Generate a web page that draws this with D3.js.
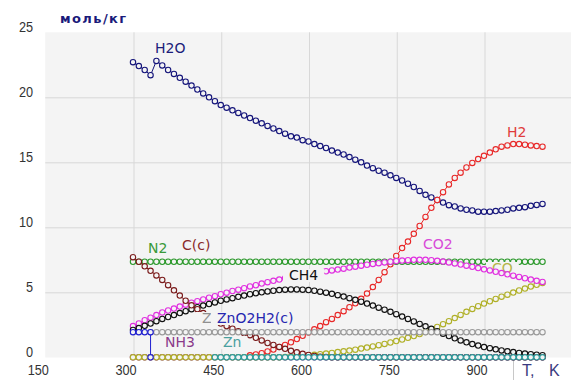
<!DOCTYPE html>
<html><head><meta charset="utf-8">
<script src="https://cdn.jsdelivr.net/npm/d3@7"></script>
<style>body{margin:0;background:#fff}svg{display:block}</style>
</head><body><svg id="c" width="571" height="380"></svg>
<script>
// ---- data ----
const temps=[300,310,320,330,340,350,360,370,380,390,400,410,420,430,440,450,460,470,480,490,500,510,520,530,540,550,560,570,580,590,600,610,620,630,640,650,660,670,680,690,700,710,720,730,740,750,760,770,780,790,800,810,820,830,840,850,860,870,880,890,900,910,920,930,940,950,960,970,980,990,1000];
const h2o=[22.7,22.4,22.1,21.7,22.8,22.45,22.1,21.8,21.5,21.2,20.9,20.6,20.3,20.0,19.7,19.4,19.2,19.0,18.8,18.6,18.4,18.2,18.0,17.8,17.6,17.4,17.2,17.0,16.9,16.7,16.6,16.4,16.25,16.1,15.9,15.75,15.6,15.4,15.2,15.0,14.75,14.55,14.35,14.2,14.0,13.8,13.6,13.35,13.1,12.8,12.5,12.3,12.1,11.9,11.7,11.6,11.45,11.35,11.3,11.2,11.2,11.2,11.25,11.3,11.35,11.45,11.5,11.55,11.65,11.72,11.8];
const h2=[null,null,null,null,null,null,null,null,null,null,null,null,null,null,null,null,null,null,null,null,0.15,0.22,0.32,0.45,0.6,0.8,0.95,1.15,1.4,1.65,1.9,2.15,2.4,2.7,2.95,3.25,3.55,3.85,4.15,4.5,4.9,5.4,5.95,6.55,7.15,7.8,8.4,8.9,9.5,10.1,10.8,11.5,12.1,12.7,13.3,13.8,14.2,14.6,14.95,15.25,15.5,15.75,16.0,16.2,16.3,16.4,16.4,16.35,16.3,16.25,16.2];
const co2=[2.4,2.6,2.85,3.05,3.25,3.45,3.6,3.75,3.9,4.05,4.2,4.32,4.45,4.58,4.7,4.85,4.97,5.1,5.2,5.32,5.45,5.55,5.67,5.78,5.88,5.98,6.08,6.18,6.26,6.34,6.4,6.48,6.55,6.62,6.68,6.75,6.82,6.9,6.97,7.05,7.12,7.18,7.24,7.3,7.35,7.4,7.44,7.47,7.5,7.5,7.5,7.47,7.42,7.36,7.3,7.22,7.14,7.05,6.96,6.86,6.77,6.68,6.58,6.48,6.38,6.28,6.18,6.08,5.98,5.88,5.8];
const n2=[7.35,7.35,7.35,7.35,7.35,7.35,7.35,7.35,7.35,7.35,7.35,7.35,7.35,7.35,7.35,7.35,7.35,7.35,7.35,7.35,7.35,7.35,7.35,7.35,7.35,7.35,7.35,7.35,7.35,7.35,7.35,7.35,7.35,7.35,7.35,7.35,7.35,7.35,7.35,7.35,7.35,7.35,7.35,7.35,7.35,7.35,7.35,7.35,7.35,7.35,7.35,7.35,7.35,7.35,7.35,7.35,7.35,7.35,7.35,7.35,7.35,7.35,7.35,7.35,7.35,7.35,7.35,7.35,7.35,7.35,7.35];
const carbon=[7.7,7.35,7.0,6.65,6.3,5.95,5.55,5.15,4.75,4.35,4.0,3.7,3.4,3.1,2.85,2.6,2.4,2.2,2.0,1.85,1.7,1.5,1.3,1.1,0.95,0.8,0.65,0.5,0.38,0.27,0.18,0.1,0.05,0.02,0,0,0,0,0,0,0,0,0,0,0,0,0,0,0,0,0,0,0,0,0,0,0,0,0,0,0,0,0,0,0,0,0,0,0,0,0];
const ch4=[2.1,2.25,2.42,2.6,2.78,2.95,3.1,3.25,3.4,3.55,3.7,3.85,3.98,4.1,4.22,4.35,4.45,4.55,4.65,4.75,4.85,4.93,5.0,5.07,5.12,5.17,5.2,5.22,5.22,5.2,5.17,5.12,5.05,4.97,4.88,4.78,4.67,4.55,4.42,4.28,4.13,3.98,3.82,3.66,3.5,3.32,3.13,2.95,2.76,2.57,2.38,2.19,2.0,1.82,1.64,1.46,1.3,1.15,1.02,0.9,0.79,0.7,0.61,0.53,0.46,0.4,0.34,0.29,0.24,0.2,0.16];
const co=[0,0,0,0,0,0,0,0,0,0,0,0,0,0,0,0,0,0,0,0,0,0,0,0,0,0,0.03,0.05,0.08,0.11,0.15,0.19,0.24,0.29,0.34,0.4,0.46,0.52,0.59,0.67,0.75,0.84,0.93,1.03,1.14,1.25,1.37,1.5,1.64,1.79,1.95,2.13,2.33,2.55,2.78,3.02,3.26,3.5,3.72,3.93,4.13,4.31,4.49,4.66,4.82,4.98,5.14,5.29,5.44,5.58,5.72];
const zno=[null,null,null,1.93,1.93,1.93,1.93,1.93,1.93,1.93,1.93,1.93,1.93,1.93,1.93,1.93,1.93,1.93,1.93,1.93,1.93,1.93,1.93,1.93,1.93,1.93,1.93,1.93,1.93,1.93,1.93,1.93,1.93,1.93,1.93,1.93,1.93,1.93,1.93,1.93,1.93,1.93,1.93,1.93,1.93,1.93,1.93,1.93,1.93,1.93,1.93,1.93,1.93,1.93,1.93,1.93,1.93,1.93,1.93,1.93,1.93,1.93,1.93,1.93,1.93,1.93,1.93,1.93,1.93,1.93,1.93];
const zn=[null,null,null,null,null,null,null,null,null,null,null,null,null,null,0,0,0,0,0,0,0,0,0,0,0,0,0,0,0,0,0,0,0,0,0,0,0,0,0,0,0,0,0,0,0,0,0,0,0,0,0,0,0,0,0,0,0,0,0,0,0,0,0,0,0,0,0,0,0,0,0];
const nh3=[0,0,0,0,0,0,0,0,0,0,0,0,0,0,0,0,0,0,0,0,0,0,0,0,0,0,0,0,0,0,0,0,0,0,0,0,0,0,0,0,0,0,0,0,0,0,0,0,0,0,0,0,0,0,0,0,0,0,0,0,0,0,0,0,0,0,0,0,0,0,0];
const znohT=[300,310,320,330,330];
const znohV=[1.93,1.93,1.93,1.93,0];
const xTicks=[150,300,450,600,750,900];
const yTicks=[0,5,10,15,20,25];
const unitLabel="моль/кг";
const axisLabel="T, K";

// ---- layout ----
const svg=d3.select("#c");
const PL=45.25,PR=571,PT=32.3,PB=357.5;
const x=d3.scaleLinear().domain([150,1050]).range([45.25,571.75]);
const y=d3.scaleLinear().domain([0,25]).range([357.3,32.3]);
const BG="#f4f4f4";

svg.append("rect").attr("x",PL).attr("y",PT).attr("width",PR-PL).attr("height",PB-PT).attr("fill",BG);

// grid via axes
const gx=svg.append("g").attr("transform",`translate(0,${PB})`)
  .call(d3.axisBottom(x).tickValues(xTicks.slice(1)).tickSize(-(PB-PT)).tickFormat(""));
gx.select(".domain").remove();
gx.selectAll("line").attr("stroke","#d8d8d8").attr("transform","translate(0.5,0)");
const gy=svg.append("g").attr("transform",`translate(${PL},0)`)
  .call(d3.axisLeft(y).tickValues(yTicks.slice(1,5)).tickSize(-(PR-PL)).tickFormat(""));
gy.select(".domain").remove();
gy.selectAll("line").attr("stroke","#d8d8d8");

// tick labels via axes
const ly=svg.append("g").attr("transform","translate(33,0)")
  .call(d3.axisLeft(y).tickValues(yTicks).tickSize(0).tickPadding(0).tickFormat(d3.format("d")));
ly.select(".domain").remove();
ly.selectAll("text").attr("x",0).attr("y",0).attr("dy",null)
  .attr("transform","translate(0,-0.5) scale(0.82,1)")
  .style("font-family","Liberation Sans, Arial, sans-serif").style("font-size","15.5px").attr("fill","#333");
const lx=svg.append("g").attr("transform","translate(0,375)")
  .call(d3.axisBottom(x).tickValues(xTicks).tickSize(0).tickPadding(0).tickFormat(d3.format("d")));
lx.select(".domain").remove();
lx.selectAll("text").attr("y",0).attr("dy",null).attr("text-anchor","middle")
  .attr("transform","translate(-7.5,0) scale(0.82,1)")
  .style("font-family","Liberation Sans, Arial, sans-serif").style("font-size","15.5px").attr("fill","#333");

// unit label
svg.append("text").attr("x",60).attr("y",23).text(unitLabel)
  .style("font-family","DejaVu Sans, sans-serif").style("font-size","13px").style("font-weight","bold")
  .style("letter-spacing","1.4px").attr("fill","#1a1a7a");

// T, K box
svg.append("line").attr("x1",513.5).attr("x2",513.5).attr("y1",PB).attr("y2",380).attr("stroke","#c8c8c8");
svg.append("text").attr("x",522).attr("y",376).text(axisLabel)
  .style("font-family","Liberation Sans, Arial, sans-serif").style("font-size","16px")
  .style("word-spacing","10px").attr("fill","#3a3a80");

const line=d3.line().defined(d=>d[1]!=null).x(d=>x(d[0])).y(d=>y(d[1]));
function series(ts,vs,color){
  const pts=ts.map((t,i)=>[t,vs[i]]);
  const g=svg.append("g");
  g.append("path").attr("d",line(pts)).attr("fill","none").attr("stroke",color).attr("stroke-width",1);
  g.selectAll("circle").data(pts.filter(d=>d[1]!=null)).join("circle")
    .attr("cx",d=>x(d[0])).attr("cy",d=>y(d[1])).attr("r",2.7)
    .attr("fill",BG).attr("stroke",color).attr("stroke-width",1.1);
}
function label(txt,lx0,by,color){
  const g=svg.append("g");
  const r=g.append("rect").attr("fill",BG);
  const t=g.append("text").attr("x",lx0).attr("y",by).text(txt)
    .style("font-family","DejaVu Sans, sans-serif").style("font-size","14px").attr("fill",color);
  const b=t.node().getBBox();
  r.attr("x",b.x-6).attr("y",b.y+2).attr("width",b.width+12).attr("height",b.height-3);
}

series(temps,nh3,"#800080");
series(temps,h2o,"#14147a");
label("H2O",155,53,"#1c1c7a");
series(temps,h2,"#e82828");
label("H2",507,137,"#e03c3c");
series(temps,n2,"#2a982a");
label("N2",148,253,"#3a9a3a");
series(temps,co,"#b0b028");
label("CO",492,273,"#b4b44a");
series(temps,co2,"#e030e0");
label("CO2",423,249,"#d84ad8");
series(temps,ch4,"#111111");
label("CH4",289,280,"#111111");
series(temps,carbon,"#7a1a1a");
label("C(c)",182,250,"#8a2a2a");
series(temps,zno,"#9a9a9a");
label("Z",202,323,"#909090");
series(znohT,znohV,"#2020d0");
label("ZnO2H2(c)",217,323,"#2626b0");
label("NH3",165,347,"#8a3a8a");
series(temps,zn,"#2a9c9c");
label("Zn",223,347,"#4aa0a0");
</script></body></html>
